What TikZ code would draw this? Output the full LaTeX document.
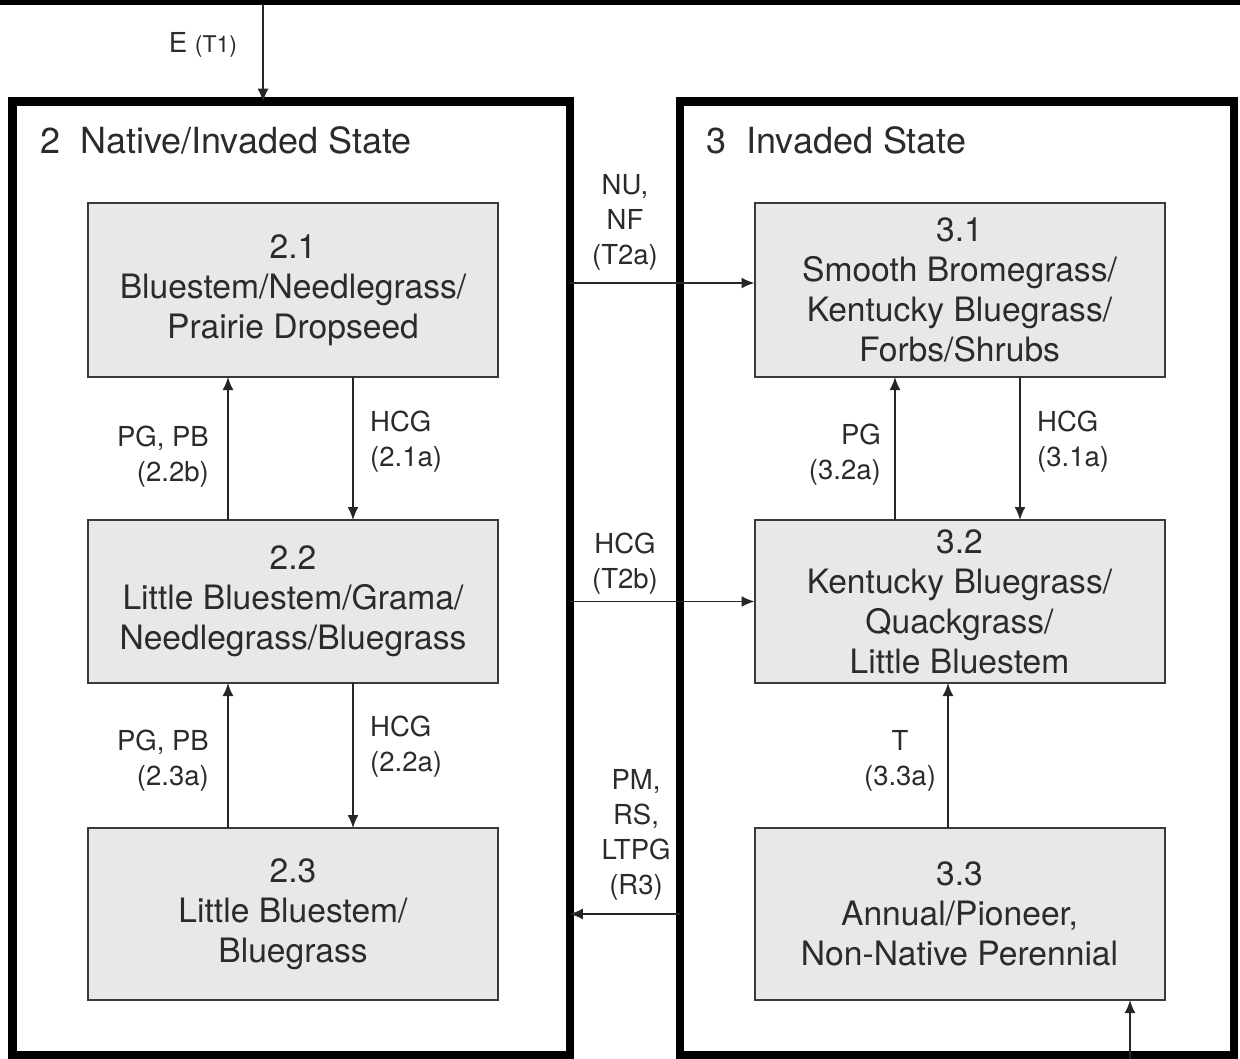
\documentclass[tikz,border=0pt]{standalone}
\usepackage{fontspec}
\setmainfont{TeX Gyre Heros}
\usetikzlibrary{arrows.meta}

\definecolor{txtgray}{HTML}{2B2B2B}
\definecolor{boxfill}{HTML}{E8E8E8}
\definecolor{boxline}{HTML}{3A3A3A}

\tikzset{
    statebox/.style={draw=black, line width=8.5pt, minimum height=953.5pt, inner sep=0pt, outer sep=0pt},
    phase/.style={draw=boxline, line width=2pt, fill=boxfill, minimum width=410pt, inner sep=0pt, outer sep=0pt,
        align=center, text=txtgray, font=\fontsize{33.6}{40}\selectfont},
    title/.style={anchor=west, inner sep=0pt, text=txtgray, font=\fontsize{36}{40}\selectfont},
    lbl/.style={inner sep=0pt, text=txtgray, font=\fontsize{27.5}{35}\selectfont},
    arr/.style={line width=1.8pt, draw=black!85, -{Latex[length=13pt,width=11pt]}},
}

\begin{document}
\begin{tikzpicture}[x=1pt,y=-1pt]
    \useasboundingbox (0,0) rectangle (1240,1059);
    \clip (0,0) rectangle (1240,1059);

    % state boxes
    \draw[line width=9pt] (-20,1) -- (1260,1);
    \node[statebox, minimum width=557.5pt] (st2) at (291,578.5) {};
    \node[statebox, minimum width=554pt] (st3) at (957,578.5) {};
    \node[title] (t2) at (40,140) {2\ \ Native/Invaded State};
    \node[title] (t3) at (706,140) {3\ \ Invaded State};

    % community phases
    \node[phase, minimum height=174pt] (s21) at (293,290) {2.1\\Bluestem/Needlegrass/\\Prairie Dropseed};
    \node[phase, minimum height=163pt] (s22) at (293,601.5) {2.2\\Little Bluestem/Grama/\\Needlegrass/Bluegrass};
    \node[phase, minimum height=172pt] (s23) at (293,914) {2.3\\Little Bluestem/\\Bluegrass};
    \node[phase, minimum height=174pt] (s31) at (959.5,290) {3.1\\Smooth Bromegrass/\\Kentucky Bluegrass/\\Forbs/Shrubs};
    \node[phase, minimum height=163pt] (s32) at (959.5,601.5) {3.2\\Kentucky Bluegrass/\\Quackgrass/\\Little Bluestem};
    \node[phase, minimum height=172pt] (s33) at (959.5,914) {3.3\\Annual/Pioneer,\\Non-Native Perennial};

    % transitions
    \coordinate (st1b) at (263,4);
    \draw[arr] (st1b) -- (st1b |- st2.north);
    \node[lbl] (lT1) at (203,45) {E {\fontsize{23}{28}\selectfont(T1)}};

    \coordinate (t2a) at ([yshift=7pt]s31.west);
    \draw[arr] (t2a -| st2.east) -- (t2a);
    \node[lbl, align=center] (lT2a) at (625,222) {NU,\\NF\\(T2a)};

    \draw[arr] (s32.west -| st2.east) -- (s32.west);
    \node[lbl, align=center] (lT2b) at (625,564) {HCG\\(T2b)};

    \draw[arr] (s33.west -| st3.west) -- (s33.west -| st2.east);
    \node[lbl, align=center] (lR3) at (636,835) {PM,\\RS,\\LTPG\\(R3)};

    \coordinate (st4t) at (1130,1070);
    \draw[arr] (st4t) -- (st4t |- s33.south);

    % pathways, state 2
    \draw[arr] ([xshift=60pt]s21.south) -- ([xshift=60pt]s22.north);
    \node[lbl, anchor=west, align=left] (l21a) at (370,442) {HCG\\(2.1a)};
    \draw[arr] ([xshift=-65pt]s22.north) -- ([xshift=-65pt]s21.south);
    \node[lbl, anchor=east, align=right] (l22b) at (209,457) {PG, PB\\(2.2b)};
    \draw[arr] ([xshift=60pt]s22.south) -- ([xshift=60pt]s23.north);
    \node[lbl, anchor=west, align=left] (l22a) at (370,747) {HCG\\(2.2a)};
    \draw[arr] ([xshift=-65pt]s23.north) -- ([xshift=-65pt]s22.south);
    \node[lbl, anchor=east, align=right] (l23a) at (209,761) {PG, PB\\(2.3a)};

    % pathways, state 3
    \draw[arr] ([xshift=60.5pt]s31.south) -- ([xshift=60.5pt]s32.north);
    \node[lbl, anchor=west, align=left] (l31a) at (1037,442) {HCG\\(3.1a)};
    \draw[arr] ([xshift=-64.5pt]s32.north) -- ([xshift=-64.5pt]s31.south);
    \node[lbl, anchor=east, align=right] (l32a) at (881,455) {PG\\(3.2a)};
    \draw[arr] ([xshift=-11.5pt]s33.north) -- ([xshift=-11.5pt]s32.south);
    \node[lbl, align=center] (l33a) at (900,761) {T\\(3.3a)};
\end{tikzpicture}
\end{document}
